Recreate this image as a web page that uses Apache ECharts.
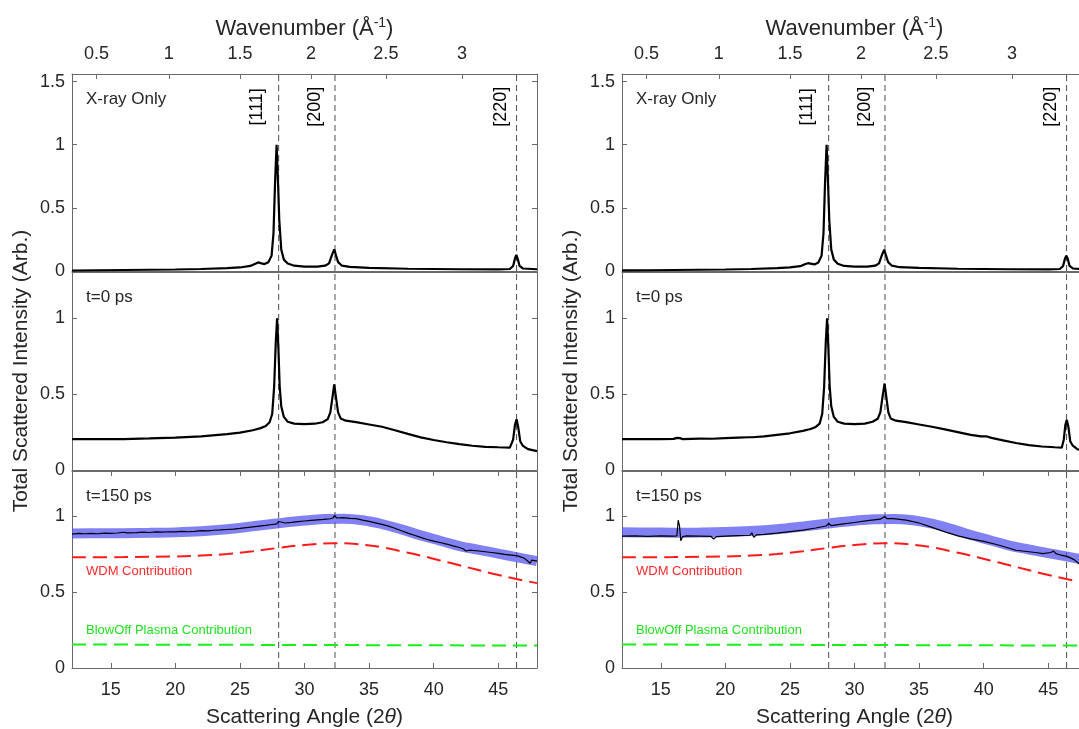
<!DOCTYPE html>
<html><head><meta charset="utf-8">
<script src="https://cdn.jsdelivr.net/npm/echarts@6/dist/echarts.min.js"></script>
<style>html,body{margin:0;padding:0;background:#fff}#c{width:1079px;height:729px}</style>
</head><body><div id="c"></div><script>
// ---------------- data ----------------
const angleTicks = [15, 20, 25, 30, 35, 40, 45];
const wavenumberTickAngles = [13.9, 19.5, 25.0, 30.5, 36.3, 42.2];
const wavenumberTickLabels = ['0.5', '1', '1.5', '2', '2.5', '3'];
const peakAngles = [28.0, 32.36, 46.42];
const peakLabels = ['[111]', '[200]', '[220]'];
const panelLabels = ['X-ray Only', 't=0 ps', 't=150 ps'];
const contributionLabels = ['WDM Contribution', 'BlowOff Plasma Contribution'];

const xrayLeft = [[12,0.004],[14,0.006],[16,0.008],[18,0.01],[20,0.012],[22,0.016],[24,0.022],[25,0.028],[25.8,0.04],[26.2,0.058],[26.4,0.068],[26.6,0.062],[26.9,0.055],[27.2,0.07],[27.45,0.12],[27.6,0.3],[27.72,0.7],[27.84,1.0],[27.95,0.7],[28.05,0.4],[28.2,0.17],[28.4,0.09],[28.7,0.06],[29.2,0.042],[30,0.035],[31,0.035],[31.6,0.042],[31.9,0.06],[32.1,0.12],[32.3,0.172],[32.45,0.12],[32.6,0.07],[32.9,0.042],[33.5,0.032],[35,0.025],[38,0.018],[42,0.014],[45,0.013],[45.9,0.016],[46.15,0.04],[46.3,0.1],[46.4,0.127],[46.5,0.1],[46.65,0.04],[46.9,0.02],[48,0.014]];
const xrayRight = [[12,0.005],[14,0.006],[16,0.008],[18,0.01],[20,0.012],[22,0.016],[24,0.022],[25,0.028],[25.8,0.038],[26.2,0.055],[26.4,0.062],[26.6,0.058],[26.9,0.052],[27.2,0.068],[27.45,0.12],[27.6,0.3],[27.72,0.7],[27.84,1.0],[27.95,0.7],[28.05,0.4],[28.2,0.17],[28.4,0.09],[28.7,0.058],[29.2,0.04],[30,0.034],[31,0.035],[31.6,0.042],[31.9,0.06],[32.1,0.12],[32.3,0.168],[32.45,0.12],[32.6,0.07],[32.9,0.042],[33.5,0.03],[35,0.024],[38,0.018],[42,0.014],[45,0.013],[45.9,0.016],[46.15,0.04],[46.3,0.1],[46.4,0.122],[46.5,0.1],[46.65,0.04],[46.9,0.02],[48,0.014]];

const t0Left = [[12,0.204],[14,0.203],[16,0.204],[18,0.208],[20,0.214],[22,0.222],[24,0.236],[25,0.246],[26,0.262],[26.6,0.276],[27,0.29],[27.3,0.315],[27.5,0.37],[27.65,0.55],[27.78,0.85],[27.88,1.0],[27.98,0.8],[28.08,0.55],[28.2,0.42],[28.4,0.35],[28.7,0.318],[29.2,0.306],[30,0.303],[30.8,0.305],[31.4,0.315],[31.8,0.335],[32.0,0.38],[32.15,0.47],[32.3,0.565],[32.45,0.47],[32.6,0.38],[32.8,0.34],[33.2,0.325],[34,0.315],[35,0.3],[36,0.285],[37,0.262],[38,0.238],[39,0.215],[40,0.198],[41,0.183],[42,0.17],[43,0.16],[44,0.153],[45,0.15],[45.9,0.148],[46.15,0.2],[46.3,0.3],[46.42,0.334],[46.55,0.28],[46.7,0.19],[46.9,0.16],[47.3,0.138],[48,0.124]];
const t0Right = [[12,0.204],[14,0.203],[15,0.204],[16,0.205],[16.25,0.212],[16.38,0.224],[16.5,0.21],[16.7,0.203],[18,0.207],[19,0.206],[20,0.21],[21,0.214],[21.8,0.216],[21.95,0.226],[22.1,0.216],[23,0.222],[24,0.232],[25,0.242],[26,0.258],[26.6,0.27],[27,0.284],[27.3,0.305],[27.5,0.37],[27.65,0.55],[27.78,0.85],[27.88,1.0],[27.98,0.8],[28.08,0.55],[28.2,0.42],[28.4,0.35],[28.7,0.318],[29.2,0.306],[30,0.303],[30.8,0.306],[31.4,0.318],[31.8,0.338],[32.0,0.38],[32.15,0.47],[32.33,0.57],[32.48,0.47],[32.62,0.38],[32.8,0.34],[33.2,0.325],[34,0.315],[35,0.3],[36,0.285],[37,0.268],[38,0.25],[39,0.232],[39.8,0.222],[40.2,0.222],[40.6,0.212],[41.5,0.195],[42.5,0.178],[43.5,0.164],[44.5,0.155],[45.5,0.15],[46.05,0.148],[46.2,0.2],[46.33,0.3],[46.44,0.33],[46.57,0.28],[46.7,0.19],[46.9,0.16],[47.3,0.135],[48,0.124]];

const t150Left = [[12,0.884],[12.5,0.888],[13,0.886],[13.5,0.889],[14,0.886],[14.5,0.89],[15,0.888],[15.5,0.891],[16,0.896],[16.3,0.892],[17,0.893],[17.5,0.896],[18,0.894],[18.5,0.898],[19,0.896],[19.5,0.899],[20,0.898],[20.5,0.901],[21,0.899],[21.5,0.902],[22,0.907],[22.5,0.905],[23,0.909],[23.5,0.911],[24,0.914],[24.5,0.917],[25,0.921],[25.5,0.926],[26,0.931],[26.5,0.936],[27,0.941],[27.5,0.947],[27.85,0.951],[28.0,0.967],[28.15,0.954],[28.5,0.957],[29,0.961],[29.5,0.966],[30,0.97],[30.5,0.974],[31,0.978],[31.5,0.981],[32,0.985],[32.2,0.99],[32.33,1.005],[32.5,0.99],[33,0.992],[33.5,0.988],[34,0.986],[34.5,0.976],[35,0.968],[35.5,0.958],[36,0.948],[36.5,0.936],[37,0.922],[37.5,0.906],[38,0.89],[38.5,0.876],[39,0.862],[39.5,0.848],[40,0.837],[40.5,0.828],[41,0.818],[41.5,0.806],[42,0.795],[42.3,0.785],[42.5,0.772],[42.8,0.778],[43.5,0.772],[44,0.767],[44.5,0.762],[45,0.756],[45.5,0.75],[46,0.745],[46.5,0.74],[47,0.725],[47.3,0.705],[47.45,0.69],[47.6,0.712],[48,0.705]];
const t150Right = [[12,0.87],[13,0.872],[14,0.868],[15,0.872],[16,0.87],[16.25,0.872],[16.35,0.975],[16.45,0.94],[16.55,0.84],[16.7,0.867],[17,0.872],[18,0.87],[18.9,0.868],[19.1,0.85],[19.3,0.867],[20,0.87],[21,0.874],[21.9,0.876],[22.05,0.892],[22.2,0.862],[22.4,0.878],[23,0.882],[24,0.89],[25,0.9],[26,0.91],[27,0.924],[27.8,0.937],[28.0,0.954],[28.2,0.94],[29,0.95],[30,0.96],[31,0.972],[32,0.982],[32.33,1.0],[32.5,0.986],[33,0.986],[34,0.976],[35,0.957],[36,0.928],[37,0.898],[38,0.872],[39,0.852],[39.5,0.844],[40,0.836],[41,0.815],[42,0.79],[42.5,0.777],[43,0.772],[44,0.762],[44.6,0.755],[45.2,0.762],[45.4,0.772],[45.6,0.755],[46,0.745],[46.5,0.735],[47,0.715],[47.3,0.695],[47.5,0.675],[48,0.645]];

const fitLeft = [[12,0.888],[14,0.889],[16,0.89],[18,0.892],[20,0.895],[22,0.902],[24,0.915],[26,0.935],[28,0.955],[30,0.973],[31.5,0.983],[33,0.985],[34.5,0.975],[36,0.95],[37.5,0.915],[39,0.875],[40.5,0.84],[42,0.805],[43.5,0.78],[45,0.755],[46.5,0.73],[48,0.705]];
const fitRight = [[12,0.895],[14,0.894],[16,0.893],[18,0.894],[20,0.897],[22,0.904],[24,0.916],[26,0.934],[28,0.954],[30,0.972],[31.5,0.982],[33,0.984],[34.5,0.975],[36,0.952],[37.5,0.918],[39,0.878],[40.5,0.843],[42,0.808],[43.5,0.782],[45,0.758],[46.5,0.735],[48,0.71]];
const wdmContribution = [[12,0.731],[16,0.732],[20,0.736],[22,0.742],[24,0.752],[26,0.77],[28,0.793],[30,0.812],[32.3,0.824],[34,0.818],[36,0.797],[37.5,0.77],[39,0.742],[40.5,0.71],[42,0.678],[44.6,0.622],[46.4,0.587],[48,0.56]];
const blowoffContribution = [[12,0.155],[30,0.152],[48,0.148]];

// ---------------- layout / style ----------------
const FONT = "'Liberation Sans', Arial, Helvetica, sans-serif";
const AX = '#6a6a6a', TXT = '#262626';
const colLeft = [72, 622], plotW = 465;
const rowTop = [74, 272, 471], rowH = [197, 198, 197];
const yMax = [1.56, 1.305, 1.3];
const yTicks = [[0, 0.5, 1, 1.5], [0, 0.5, 1], [0, 0.5, 1]];
const peakLabelShift = [-1.7, -1.52, -1.24];
const peakLabelLevel = 1.3;

const curves = [[xrayLeft, t0Left, t150Left], [xrayRight, t0Right, t150Right]];
const fits = [fitLeft, fitRight];

const grids = [], xAxes = [], yAxes = [], series = [], graphics = [];
const lineAx = {show: true, onZero: false, lineStyle: {color: AX, width: 1}};

for (let c = 0; c < 2; c++) {
  for (let r = 0; r < 3; r++) {
    const g = grids.length;
    grids.push({left: colLeft[c], top: rowTop[r], width: plotW, height: rowH[r], containLabel: false, outerBoundsMode: 'none'});
    const xb = xAxes.length;
    xAxes.push({
      gridIndex: g, type: 'value', position: 'bottom', min: 12, max: 48,
      axisLine: lineAx, splitLine: {show: false},
      axisTick: {show: r === 2, inside: true, length: 5, customValues: angleTicks, lineStyle: {color: AX}},
      axisLabel: {show: r === 2, customValues: angleTicks, fontSize: 18, color: TXT, margin: 13, fontFamily: FONT},
      name: r === 2 ? 'Scattering Angle (2{it|θ})' : '', nameLocation: 'middle', nameGap: 39,
      nameTextStyle: {fontSize: 21, color: TXT, fontFamily: FONT, rich: {it: {fontStyle: 'italic', fontSize: 21, color: TXT, fontFamily: FONT}}}
    });
    const topTicks = r === 0 ? wavenumberTickAngles : (r === 2 ? angleTicks : []);
    xAxes.push({
      gridIndex: g, type: 'value', position: 'top', min: 12, max: 48,
      axisLine: lineAx, splitLine: {show: false},
      axisTick: {show: r !== 1, inside: true, length: 5, customValues: topTicks, lineStyle: {color: AX}},
      axisLabel: {show: r === 0, customValues: wavenumberTickAngles, fontSize: 18, color: TXT, margin: 11, fontFamily: FONT,
        formatter: v => { const i = wavenumberTickAngles.findIndex(a => Math.abs(a - v) < 1e-6); return i >= 0 ? wavenumberTickLabels[i] : ''; }},
      name: r === 0 ? 'Wavenumber (Å{sup|-1})' : '', nameLocation: 'middle', nameGap: 33,
      nameTextStyle: {fontSize: 22, color: TXT, fontFamily: FONT, lineHeight: 25,
        rich: {sup: {fontSize: 14, color: TXT, fontFamily: FONT, verticalAlign: 'top', lineHeight: 25}}}
    });
    const yl = yAxes.length;
    yAxes.push({
      gridIndex: g, type: 'value', position: 'left', min: 0, max: yMax[r],
      axisLine: lineAx, splitLine: {show: false},
      axisTick: {show: true, inside: true, length: 5, customValues: yTicks[r], lineStyle: {color: AX}},
      axisLabel: {customValues: yTicks[r], fontSize: 18, color: TXT, margin: 7, fontFamily: FONT},
      name: r === 1 ? 'Total Scattered Intensity (Arb.)' : '', nameLocation: 'middle', nameGap: 40,
      nameTextStyle: {fontSize: 21, color: TXT, fontFamily: FONT}
    });
    yAxes.push({
      gridIndex: g, type: 'value', position: 'right', min: 0, max: yMax[r],
      axisLine: lineAx, splitLine: {show: false},
      axisTick: {show: true, inside: true, length: 5, customValues: yTicks[r], lineStyle: {color: AX}},
      axisLabel: {show: false}
    });

    // vertical dashed reference lines at the Bragg peaks
    peakAngles.forEach(p => series.push({
      type: 'line', xAxisIndex: xb, yAxisIndex: yl, data: [[p, 0], [p, yMax[r]]],
      symbol: 'none', silent: true, z: 1, animation: false,
      lineStyle: {color: '#4d4d4d', width: 1, type: [6, 4]}
    }));

    if (r < 2) {
      series.push({type: 'line', xAxisIndex: xb, yAxisIndex: yl, data: curves[c][r], symbol: 'none',
        animation: false, z: 3, lineStyle: {color: '#000', width: 2.2}});
    } else {
      series.push({type: 'line', xAxisIndex: xb, yAxisIndex: yl, data: fits[c], symbol: 'none', smooth: 0.4,
        animation: false, z: 2, lineStyle: {color: 'rgba(80,80,240,0.72)', width: 10, cap: 'butt'}});
      series.push({type: 'line', xAxisIndex: xb, yAxisIndex: yl, data: curves[c][r], symbol: 'none',
        animation: false, z: 3, lineStyle: {color: '#000', width: 1.2}});
      series.push({type: 'line', xAxisIndex: xb, yAxisIndex: yl, data: wdmContribution, symbol: 'none', smooth: 0.4,
        animation: false, z: 3, lineStyle: {color: '#ff1a1a', width: 2, type: [14, 7]}});
      series.push({type: 'line', xAxisIndex: xb, yAxisIndex: yl, data: blowoffContribution, symbol: 'none',
        animation: false, z: 3, lineStyle: {color: '#1aee1a', width: 2, type: [14, 7]}});
    }

    if (r === 0) {
      series.push({type: 'scatter', xAxisIndex: xb, yAxisIndex: yl, symbolSize: 0, silent: true, animation: false,
        itemStyle: {opacity: 1},
        data: peakAngles.map((p, i) => ({value: [p + peakLabelShift[i], peakLabelLevel], name: peakLabels[i]})),
        label: {show: true, position: 'inside', rotate: 90, formatter: d => d.name, fontSize: 18, color: '#000',
          opacity: 1, fontFamily: FONT, textBorderWidth: 0}});
    }

    graphics.push({type: 'text', left: colLeft[c] + 14, top: rowTop[r] + 17,
      style: {text: panelLabels[r], fontSize: 17, fill: TXT, fontFamily: FONT}});
    if (r === 2) {
      graphics.push({type: 'text', left: colLeft[c] + 14, top: rowTop[r] + 94,
        style: {text: contributionLabels[0], fontSize: 13, fill: '#ff2a2a', fontFamily: FONT}});
      graphics.push({type: 'text', left: colLeft[c] + 14, top: rowTop[r] + 153,
        style: {text: contributionLabels[1], fontSize: 13, fill: '#22e022', fontFamily: FONT}});
    }
  }
}

const chart = echarts.init(document.getElementById('c'), null, {renderer: 'canvas'});
chart.setOption({
  animation: false,
  backgroundColor: '#fff',
  textStyle: {fontFamily: FONT},
  grid: grids, xAxis: xAxes, yAxis: yAxes, series: series, graphic: graphics
});
</script></body></html>
